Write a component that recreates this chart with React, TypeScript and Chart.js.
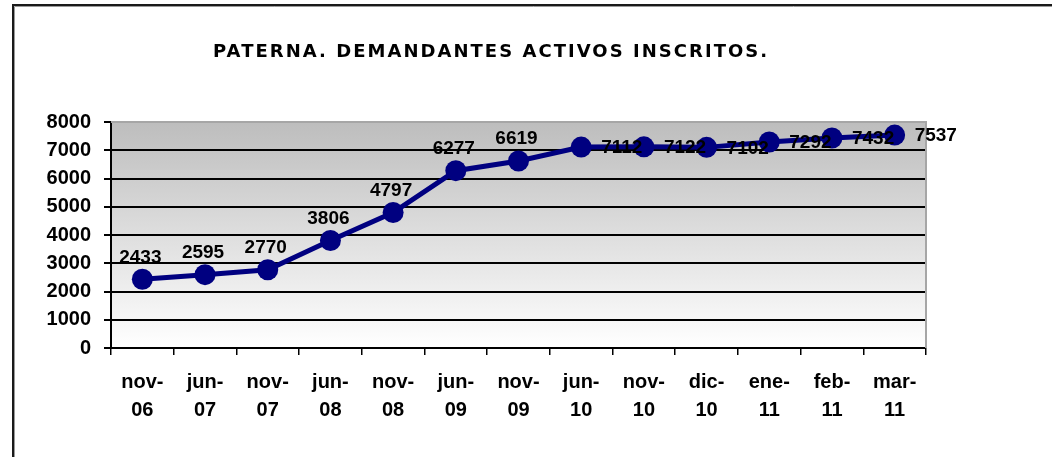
import React, { useEffect, useRef } from "react";
import { Chart, registerables } from "chart.js";

Chart.register(...registerables);

// ---- data ----
const categories: string[][] = [
  ["nov-", "06"], ["jun-", "07"], ["nov-", "07"], ["jun-", "08"], ["nov-", "08"],
  ["jun-", "09"], ["nov-", "09"], ["jun-", "10"], ["nov-", "10"], ["dic-", "10"],
  ["ene-", "11"], ["feb-", "11"], ["mar-", "11"],
];
const values: number[] = [2433, 2595, 2770, 3806, 4797, 6277, 6619, 7112, 7122, 7102, 7292, 7432, 7537];
const yMin = 0;
const yMax = 8000;
const yStep = 1000;
const titleText = "PATERNA. DEMANDANTES ACTIVOS INSCRITOS.";
const labelsRightFromIndex = 7;

const AXIS_FAMILY = '"Liberation Sans", Arial, sans-serif';

const backgroundPlugin = {
  id: "bgFrame",
  beforeDraw(chart: any) {
    const { ctx, chartArea: a, width, height } = chart;
    ctx.save();
    ctx.fillStyle = "#ffffff";
    ctx.fillRect(0, 0, width, height);
    // outer frame (cropped at right and bottom)
    ctx.strokeStyle = "#1a1a1a";
    ctx.lineWidth = 2;
    ctx.beginPath();
    ctx.moveTo(13, height + 5);
    ctx.lineTo(13, 5);
    ctx.lineTo(width + 5, 5);
    ctx.stroke();
    ctx.strokeStyle = "#9a9a9a";
    ctx.lineWidth = 1;
    ctx.beginPath();
    ctx.moveTo(14.5, height + 5);
    ctx.lineTo(14.5, 6.5);
    ctx.lineTo(width + 5, 6.5);
    ctx.stroke();
    // plot gradient
    const g = ctx.createLinearGradient(0, a.top, 0, a.bottom);
    g.addColorStop(0, "#bdbdbd");
    g.addColorStop(1, "#ffffff");
    ctx.fillStyle = g;
    ctx.fillRect(a.left, a.top, a.right - a.left, a.bottom - a.top);
    ctx.restore();
  },
  beforeDatasetsDraw(chart: any) {
    const { ctx, chartArea: a } = chart;
    ctx.save();
    ctx.strokeStyle = "#a6a6a6";
    ctx.lineWidth = 2;
    ctx.beginPath();
    ctx.moveTo(a.left, a.top);
    ctx.lineTo(a.right, a.top);
    ctx.lineTo(a.right, a.bottom);
    ctx.stroke();
    ctx.restore();
  },
};

const titlePlugin = {
  id: "spacedTitle",
  afterDraw(chart: any) {
    const { ctx } = chart;
    ctx.save();
    ctx.font = 'bold 18px "DejaVu Sans", Verdana, sans-serif';
    ctx.fillStyle = "#000";
    ctx.textBaseline = "middle";
    ctx.textAlign = "left";
    const targetLeft = 213;
    const targetWidth = 554;
    const w0 = ctx.measureText(titleText).width;
    const n = titleText.length;
    const spacing = (targetWidth - w0) / (n - 1);
    (ctx as any).letterSpacing = spacing.toFixed(2) + "px";
    ctx.fillText(titleText, targetLeft, 52);
    ctx.restore();
  },
};

const dataLabelPlugin = {
  id: "valueLabels",
  afterDatasetsDraw(chart: any) {
    const { ctx } = chart;
    const meta = chart.getDatasetMeta(0);
    ctx.save();
    ctx.font = 'bold 19px "Liberation Sans", Arial, sans-serif';
    ctx.fillStyle = "#000";
    ctx.textBaseline = "middle";
    meta.data.forEach((pt: any, i: number) => {
      const v = values[i];
      if (i < labelsRightFromIndex) {
        ctx.textAlign = "center";
        ctx.fillText(String(v), pt.x - 2, pt.y - 22);
      } else {
        ctx.textAlign = "left";
        ctx.fillText(String(v), pt.x + 20, pt.y + 1);
      }
    });
    ctx.restore();
  },
};

export default function App() {
  const ref = useRef<HTMLCanvasElement | null>(null);
  useEffect(() => {
    if (!ref.current) return;
    const chart = new Chart(ref.current, {
      type: "line",
      data: {
        labels: categories,
        datasets: [
          {
            data: values,
            borderColor: "#000080",
            backgroundColor: "#000080",
            borderWidth: 5,
            pointRadius: 10.5,
            pointBackgroundColor: "#000080",
            pointBorderColor: "#000080",
            pointBorderWidth: 0,
            tension: 0,
            clip: false as any,
          },
        ],
      },
      options: {
        responsive: false,
        animation: false,
        layout: { padding: { left: 0, right: 126, top: 122, bottom: 29 } },
        plugins: {
          legend: { display: false },
          title: { display: false },
          tooltip: { enabled: false },
        },
        scales: {
          x: {
            offset: true,
            grid: {
              offset: true,
              drawOnChartArea: false,
              drawTicks: true,
              tickLength: 7,
              color: "#000",
              lineWidth: 1.5,
            },
            border: { color: "#000", width: 2 },
            ticks: {
              color: "#000",
              font: { family: AXIS_FAMILY, size: 20, weight: "bold", lineHeight: 1.42 },
              padding: 13,
              maxRotation: 0,
              autoSkip: false,
            },
            afterFit(s: any) {
              s.height = 80;
            },
          },
          y: {
            min: yMin,
            max: yMax,
            grid: {
              color: (c: any) => (c.tick && c.tick.value === yMax ? "#a6a6a6" : "#000"),
              tickColor: "#000",
              lineWidth: 2,
              tickLength: 7,
            },
            border: { color: "#000", width: 2 },
            ticks: {
              stepSize: yStep,
              autoSkip: false,
              color: "#000",
              font: { family: AXIS_FAMILY, size: 20, weight: "bold", lineHeight: 1 },
              padding: 13,
              callback: (v: any) => String(v),
            },
            afterFit(s: any) {
              s.width = 111;
            },
          },
        },
      },
      plugins: [backgroundPlugin, dataLabelPlugin, titlePlugin],
    });
    return () => chart.destroy();
  }, []);

  return (
    <div style={{ position: "absolute", left: 0, top: 0, width: 1052, height: 457 }}>
      <canvas ref={ref} width={1052} height={457} style={{ display: "block" }} />
    </div>
  );
}
